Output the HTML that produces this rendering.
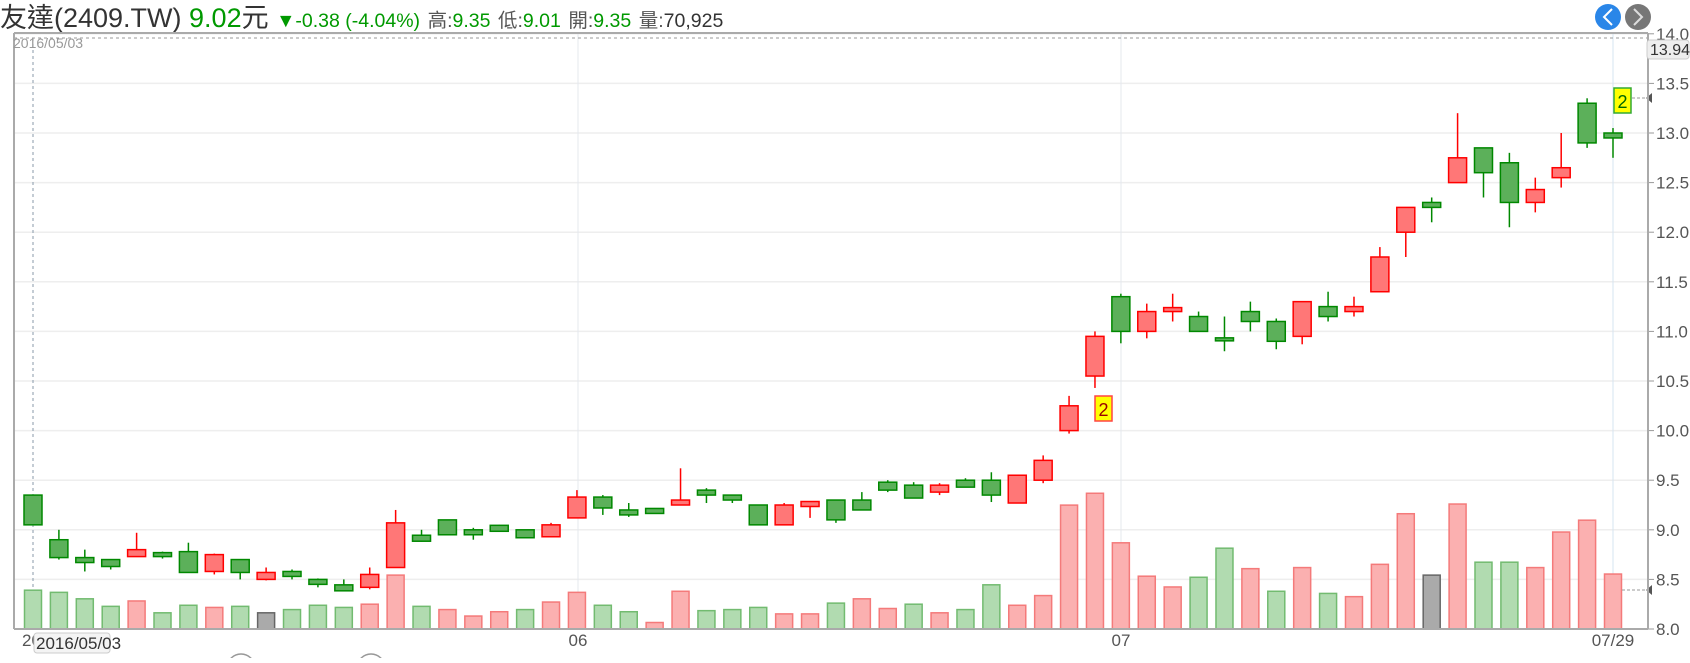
<!DOCTYPE html>
<html><head><meta charset="utf-8"><style>
body{margin:0;background:#fff;width:1690px;height:658px;overflow:hidden;font-family:"Liberation Sans","Noto Sans CJK TC",sans-serif}
</style></head><body>
<svg id="s" width="1690" height="658" xmlns="http://www.w3.org/2000/svg" font-family="Liberation Sans, Noto Sans CJK TC, sans-serif">
<text x="0" y="27" font-size="27" fill="#333">友達(2409.TW) <tspan fill="#090">9.02</tspan><tspan fill="#333">元</tspan> <tspan font-size="19.5" fill="#090">▼-0.38 (-4.04%)</tspan> <tspan font-size="19.5" fill="#555">高:</tspan><tspan font-size="19.5" fill="#090">9.35</tspan> <tspan font-size="19.5" fill="#555">低:</tspan><tspan font-size="19.5" fill="#090">9.01</tspan> <tspan font-size="19.5" fill="#555">開:</tspan><tspan font-size="19.5" fill="#090">9.35</tspan> <tspan font-size="19.5" fill="#555">量:</tspan><tspan font-size="19.5" fill="#333">70,925</tspan></text>
<circle cx="1608" cy="17" r="13" fill="#2a86e8"/><path d="M1612 9 L1604 17 L1612 25" stroke="#fff" stroke-width="2" fill="none"/>
<circle cx="1638" cy="17" r="13" fill="#777"/><path d="M1634 9 L1642 17 L1634 25" stroke="#ddd" stroke-width="2" fill="none"/>
<g id="g"></g>
</svg>
<script>
var g=document.getElementById('g'),h='';
function Y(p){return 629-(p-8)*99.2}
for(var p=8;p<=14.01;p+=0.5){var y=Y(p);h+='<line x1="14" y1="'+y+'" x2="1648" y2="'+y+'" stroke="#eee" stroke-width="1.5"/>';
h+='<line x1="1648" y1="'+y+'" x2="1654" y2="'+y+'" stroke="#999"/>';
h+='<text x="1656" y="'+(y+6)+'" font-size="17" fill="#555">'+p.toFixed(1)+'</text>';}
[578,1121].forEach(function(x){h+='<line x1="'+x+'" y1="33" x2="'+x+'" y2="629" stroke="#e4e8ee"/>'});
h+='<line x1="1613" y1="33" x2="1613" y2="629" stroke="#d6e4f0"/>';
h+='<line x1="33" y1="38" x2="33" y2="629" stroke="#8899aa" stroke-dasharray="3,3"/>';
h+='<line x1="14" y1="38" x2="1648" y2="38" stroke="#999" stroke-dasharray="3,3"/>';
var d=[[9.35,9.05,9.35,9.05,548,'g'],[8.9,8.72,9.0,8.7,550,'g'],[8.72,8.67,8.8,8.58,556,'g'],[8.7,8.63,8.7,8.6,563,'g'],[8.73,8.8,8.97,8.73,558,'r'],[8.77,8.73,8.78,8.71,569,'g'],[8.78,8.57,8.87,8.57,562,'g'],[8.58,8.75,8.76,8.55,564,'r'],[8.7,8.57,8.7,8.5,563,'g'],[8.5,8.57,8.62,8.49,569,'k'],[8.58,8.53,8.6,8.5,566,'g'],[8.5,8.45,8.51,8.42,562,'g'],[8.43,8.4,8.5,8.38,564,'g'],[8.42,8.55,8.62,8.4,561,'r'],[8.62,9.07,9.2,8.62,534,'r'],[8.93,8.9,9.0,8.88,563,'g'],[9.1,8.95,9.1,8.95,566,'r'],[9.0,8.95,9.02,8.9,572,'r'],[9.03,9.0,9.05,8.99,568,'r'],[9.0,8.92,9.0,8.92,566,'g'],[8.93,9.05,9.07,8.93,559,'r'],[9.12,9.33,9.4,9.12,550,'r'],[9.33,9.22,9.35,9.15,562,'g'],[9.2,9.15,9.27,9.13,568,'g'],[9.2,9.18,9.22,9.16,578,'r'],[9.25,9.3,9.62,9.25,549,'r'],[9.4,9.35,9.42,9.27,567,'g'],[9.35,9.3,9.35,9.27,566,'g'],[9.25,9.05,9.25,9.05,564,'g'],[9.05,9.25,9.27,9.05,570,'r'],[9.25,9.27,9.29,9.12,570,'r'],[9.3,9.1,9.3,9.07,560,'g'],[9.3,9.2,9.38,9.2,556,'r'],[9.48,9.4,9.5,9.38,565,'r'],[9.45,9.32,9.48,9.32,561,'g'],[9.38,9.45,9.47,9.35,569,'r'],[9.5,9.43,9.52,9.43,566,'g'],[9.5,9.35,9.58,9.28,543,'g'],[9.27,9.55,9.55,9.27,562,'r'],[9.5,9.7,9.75,9.47,553,'r'],[10.0,10.25,10.35,9.97,469,'r'],[10.55,10.95,11.0,10.43,458,'r'],[11.35,11.0,11.38,10.88,504,'r'],[11.0,11.2,11.28,10.93,535,'r'],[11.2,11.24,11.38,11.1,545,'r'],[11.15,11.0,11.2,11.0,536,'g'],[10.92,10.92,11.15,10.8,509,'g'],[11.2,11.1,11.3,11.0,528,'r'],[11.1,10.9,11.13,10.82,549,'g'],[10.95,11.3,11.3,10.87,527,'r'],[11.25,11.15,11.4,11.1,551,'g'],[11.2,11.25,11.35,11.15,554,'r'],[11.4,11.75,11.85,11.4,524,'r'],[12.0,12.25,12.25,11.75,477,'r'],[12.3,12.25,12.35,12.1,534,'k'],[12.5,12.75,13.2,12.5,468,'r'],[12.85,12.6,12.85,12.35,522,'g'],[12.7,12.3,12.8,12.05,522,'g'],[12.3,12.43,12.55,12.2,527,'r'],[12.55,12.65,13.0,12.45,494,'r'],[13.3,12.9,13.35,12.85,483,'r'],[13.0,12.95,13.05,12.75,533,'r']];
var S=1580/61;
d.forEach(function(c,i){var x=33+i*S,o=c[0],cl=c[1],up=cl>o;
var vc=c[5]=='g'?['#b1dbb0','#72bb70']:c[5]=='r'?['#fbb0b0','#f47a7a']:['#aaa','#666'];
var vt=c[4]*1.077;h+='<rect x="'+(x-8.5)+'" y="'+vt+'" width="17" height="'+(629-vt)+'" fill="'+vc[0]+'" stroke="'+vc[1]+'" stroke-width="1.5"/>';
var col=up?'#f00':'#080',fill=up?'#f77':'#5cb05a';
h+='<line x1="'+x+'" y1="'+Y(c[2])+'" x2="'+x+'" y2="'+Y(c[3])+'" stroke="'+col+'" stroke-width="1.5"/>';
var t=Y(Math.max(o,cl)),b=Y(Math.min(o,cl));if(b-t<3){t-=1.5;b+=1.5}
h+='<rect x="'+(x-9)+'" y="'+t+'" width="18" height="'+(b-t)+'" fill="'+fill+'" stroke="'+col+'" stroke-width="1.5"/>';});
h+='<rect x="1095" y="396" width="17" height="25" fill="#ff0" stroke="#f44" stroke-width="1.5"/><text x="1103.5" y="416" text-anchor="middle" font-size="18" fill="#900">2</text>';
h+='<rect x="1614" y="88" width="17" height="25" fill="#ff0" stroke="#3a3" stroke-width="1.5"/><text x="1622.5" y="108" text-anchor="middle" font-size="18" fill="#060">2</text>';
h+='<line x1="1632" y1="98" x2="1646" y2="98" stroke="#999" stroke-dasharray="3,2"/><path d="M1646 98 L1652 93 L1652 103Z" fill="#555"/>';
h+='<line x1="1622" y1="590" x2="1646" y2="590" stroke="#999" stroke-dasharray="3,2"/><path d="M1646 590 L1652 585 L1652 595Z" fill="#555"/>';
h+='<line x1="14" y1="33" x2="1648" y2="33" stroke="#aaa" stroke-width="2"/><line x1="14" y1="33" x2="14" y2="629" stroke="#aaa" stroke-width="2"/><line x1="1648" y1="33" x2="1648" y2="629" stroke="#aaa" stroke-width="2"/><line x1="14" y1="629" x2="1648" y2="629" stroke="#aaa" stroke-width="2"/>';
h+='<rect x="1647" y="40" width="42" height="19" rx="3" fill="#eee" stroke="#ccc"/><text x="1650" y="55" font-size="16" fill="#333">13.94</text>';
h+='<text x="13" y="48" font-size="14" fill="#999">2016/05/03</text>';
h+='<text x="22" y="646" font-size="17" fill="#555">2016/05/03</text>';
h+='<rect x="34" y="633" width="76" height="20" rx="3" fill="#f4f4f4" stroke="#ccc"/><text x="36" y="649" font-size="17" fill="#333">2016/05/03</text>';
h+='<text x="578" y="646" font-size="17" fill="#555" text-anchor="middle">06</text><text x="1121" y="646" font-size="17" fill="#555" text-anchor="middle">07</text><text x="1613" y="646" font-size="17" fill="#555" text-anchor="middle">07/29</text>';
h+='<circle cx="241" cy="668" r="14" fill="#fff" stroke="#999" stroke-width="1.5"/><circle cx="371" cy="668" r="14" fill="#fff" stroke="#999" stroke-width="1.5"/>';
g.innerHTML=h;
</script>
</body></html>
